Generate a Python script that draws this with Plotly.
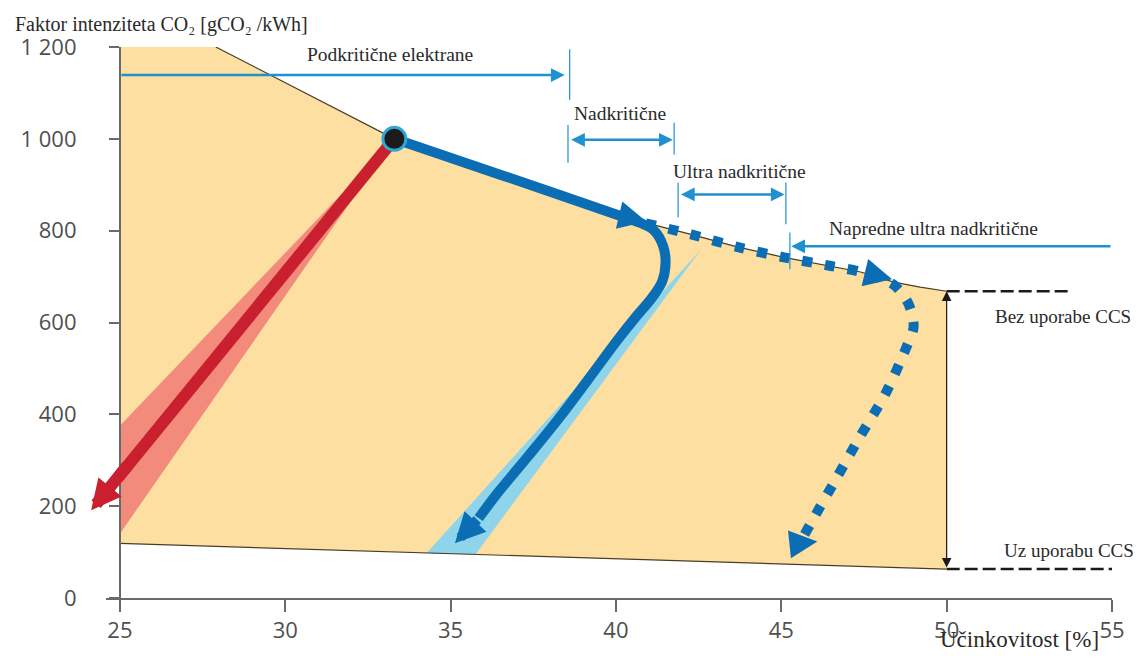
import plotly.graph_objects as go

# ---------------- data ----------------
x_ticks = [25, 30, 35, 40, 45, 50, 55]
y_ticks = [0, 200, 400, 600, 800, 1000, 1200]
y_ticktext = ["0", "200", "400", "600", "800", "1 000", "1 200"]

# envelope (orange area) boundaries
env_top_x = [25, 27.9, 33.3, 36.5, 40.25, 42.27, 43.69, 45.08, 46.5, 47.4, 48.4, 49.2, 50]
env_top_y = [1200, 1200, 1000, 922, 829, 792, 764, 742, 723, 710, 688, 677, 668]
env_bot_x = [50, 25]
env_bot_y = [63, 119]

# red (subcritical with CCS) band and arrow
red_band_x = [33.3, 25, 25]
red_band_y = [1000, 375, 140]
red_line_x = [33.3, 24.95]
red_line_y = [1000, 263]
red_head_tail = (25.27, 292)
red_tip = (24.13, 191)

# light blue band
blue_band_x = [42.58, 34.28, 35.75]
blue_band_y = [760, 98, 95]

# solid blue path
blue_x = [33.3, 36.5, 40.25, 40.8, 41.16, 41.43, 41.5, 41.4, 41.1, 40.6, 40.07, 39.17, 38.27, 37.36, 36.46, 35.85]
blue_y = [1000, 922, 829, 815, 800, 766, 730, 690, 655, 612, 564, 477, 391, 310, 232, 174]
blue_tip = (35.13, 119)

# dotted blue path
dot_x = [40.9, 42.27, 43.69, 45.08, 46.5, 47.4, 48.4, 48.85, 49.0, 48.76, 48.15, 47.4, 46.7, 45.98, 45.6]
dot_y = [816, 792, 764, 742, 723, 710, 682, 640, 590, 542, 445, 354, 265, 174, 125]

# triangle arrowheads along the paths (tail -> tip)
tri_tail_x = [40.33, 47.61, 45.29]
tri_tail_y = [830, 707, 117]
tri_tip_x = [40.92, 48.35, 46.09]
tri_tip_y = [820, 694, 123]

# starting point
start_x = [33.3]
start_y = [1000]

# technology range arrows
range_labels = ["Podkritične elektrane", "Nadkritične", "Ultra nadkritične", "Napredne ultra nadkritične"]
label_x = [33.17, 40.13, 43.75, 49.6]
label_y = [1183, 1055, 929, 805]
sub_arrow = dict(x0=25, x1=38.45, y=1139)
sc_arrow = dict(x0=38.6, x1=41.72, y=998)
usc_arrow = dict(x0=41.92, x1=45.1, y=879)
ausc_arrow = dict(x0=55, x1=45.3, y=766)
tick_seg_x = [38.6, 38.6, None, 38.55, 38.55, None, 41.76, 41.76, None, 41.88, 41.88, None, 45.14, 45.14, None, 45.26, 45.26]
tick_seg_y = [1085, 1195, None, 948, 1030, None, 966, 1035, None, 829, 905, None, 814, 905, None, 716, 796]

# CCS reference lines
ccs_no_x = [50, 53.75]
ccs_no_y = [668, 668]
ccs_yes_x = [50, 55]
ccs_yes_y = [63, 63]
ccs_labels = ["Bez uporabe CCS", "Uz uporabu CCS"]
ccs_label_x = [51.41, 51.68]
ccs_label_y = [614, 104]

x_title = "Učinkovitost [%]"
y_title = "Faktor intenziteta CO₂ [gCO₂ /kWh]"

# ---------------- styles ----------------
ORANGE = "#FDDFA1"
EDGE = "#4a3d28"
RED = "#C91F2E"
SALMON = "#F28B7B"
BLUE = "#0B6DB3"
LBLUE = "#8ED4EA"
ABLUE = "#1F90D0"
SERIF = "Liberation Serif"
TXT = "#2a2a2a"

fig = go.Figure()

# envelope
fig.add_trace(go.Scatter(x=env_top_x + env_bot_x, y=env_top_y + env_bot_y, fill="toself",
                         fillcolor=ORANGE, mode="lines", line=dict(width=0), hoverinfo="skip"))
# bands
fig.add_trace(go.Scatter(x=red_band_x, y=red_band_y, fill="toself", fillcolor=SALMON,
                         mode="lines", line=dict(width=0), hoverinfo="skip"))
fig.add_trace(go.Scatter(x=blue_band_x, y=blue_band_y, fill="toself", fillcolor=LBLUE,
                         mode="lines", line=dict(width=0), hoverinfo="skip"))
# envelope edges
fig.add_trace(go.Scatter(x=env_top_x[1:], y=env_top_y[1:], mode="lines",
                         line=dict(color=EDGE, width=1.2), hoverinfo="skip"))
fig.add_trace(go.Scatter(x=env_bot_x, y=env_bot_y, mode="lines",
                         line=dict(color=EDGE, width=1.2), hoverinfo="skip"))

# dotted path
fig.add_trace(go.Scatter(x=dot_x, y=dot_y, mode="lines", line_shape="spline",
                         line=dict(color=BLUE, width=10, dash="10px,13px", smoothing=0.8),
                         hoverinfo="skip"))

# red line
fig.add_trace(go.Scatter(x=red_line_x, y=red_line_y, mode="lines",
                         line=dict(color=RED, width=12), hoverinfo="skip"))

# solid blue
fig.add_trace(go.Scatter(x=blue_x, y=blue_y, mode="lines", line_shape="spline",
                         line=dict(color=BLUE, width=10, smoothing=1.0), hoverinfo="skip"))

# start circle
fig.add_trace(go.Scatter(x=start_x, y=start_y, mode="markers",
                         marker=dict(size=23, color="#1b1b1b", line=dict(color="#2FA5DC", width=3)),
                         hoverinfo="skip"))

# range ticks
fig.add_trace(go.Scatter(x=tick_seg_x, y=tick_seg_y, mode="lines",
                         line=dict(color=ABLUE, width=1.2), hoverinfo="skip"))

# CCS dashed lines
fig.add_trace(go.Scatter(x=ccs_no_x, y=ccs_no_y, mode="lines",
                         line=dict(color="#1a1a1a", width=2.5, dash="13px,5px"), hoverinfo="skip"))
fig.add_trace(go.Scatter(x=ccs_yes_x, y=ccs_yes_y, mode="lines",
                         line=dict(color="#1a1a1a", width=2.5, dash="13px,5px"), hoverinfo="skip"))

ann = []
# arrowheads at path ends
ann.append(dict(x=red_tip[0], y=red_tip[1], ax=red_head_tail[0], ay=red_head_tail[1],
                xref="x", yref="y", axref="x", ayref="y", showarrow=True, text="",
                arrowhead=2, arrowsize=0.5, arrowwidth=12, arrowcolor=RED))
ann.append(dict(x=blue_tip[0], y=blue_tip[1], ax=blue_x[-1], ay=blue_y[-1],
                xref="x", yref="y", axref="x", ayref="y", showarrow=True, text="",
                arrowhead=2, arrowsize=0.6, arrowwidth=10, arrowcolor=BLUE))
# triangle heads along paths
for tx, ty, hx, hy in zip(tri_tail_x, tri_tail_y, tri_tip_x, tri_tip_y):
    ann.append(dict(x=hx, y=hy, ax=tx, ay=ty,
                    xref="x", yref="y", axref="x", ayref="y", showarrow=True, text="",
                    arrowhead=2, arrowsize=2.8, arrowwidth=2, arrowcolor=BLUE))
# range arrows
ann.append(dict(x=sub_arrow["x1"], y=sub_arrow["y"], ax=sub_arrow["x0"], ay=sub_arrow["y"],
                xref="x", yref="y", axref="x", ayref="y", showarrow=True, text="",
                arrowhead=2, arrowsize=1.1, arrowwidth=2.5, arrowcolor=ABLUE))
for a in (sc_arrow, usc_arrow):
    ann.append(dict(x=a["x1"], y=a["y"], ax=a["x0"], ay=a["y"],
                    xref="x", yref="y", axref="x", ayref="y", showarrow=True, text="",
                    arrowhead=2, arrowsize=1.1, arrowwidth=2.5, arrowcolor=ABLUE,
                    arrowside="end+start"))
ann.append(dict(x=ausc_arrow["x1"], y=ausc_arrow["y"], ax=ausc_arrow["x0"], ay=ausc_arrow["y"],
                xref="x", yref="y", axref="x", ayref="y", showarrow=True, text="",
                arrowhead=2, arrowsize=1.1, arrowwidth=2.5, arrowcolor=ABLUE))
# CCS vertical double arrow
ann.append(dict(x=50, y=ccs_no_y[0], ax=50, ay=ccs_yes_y[0],
                xref="x", yref="y", axref="x", ayref="y", showarrow=True, text="",
                arrowhead=2, arrowsize=1.6, arrowwidth=1.2, arrowcolor="#1a1a1a",
                arrowside="end+start"))
# labels
for t, lx, ly in zip(range_labels, label_x, label_y):
    ann.append(dict(x=lx, y=ly, xref="x", yref="y", text=t, showarrow=False,
                    font=dict(family=SERIF, size=19.5, color=TXT)))
for t, lx, ly in zip(ccs_labels, ccs_label_x, ccs_label_y):
    ann.append(dict(x=lx, y=ly, xref="x", yref="y", text=t, showarrow=False, xanchor="left",
                    font=dict(family=SERIF, size=19, color=TXT)))
# axis titles
ann.append(dict(x=-0.092, y=1.04, xref="paper", yref="paper", text=y_title, showarrow=False,
                xanchor="left", yanchor="middle", font=dict(family=SERIF, size=20, color=TXT)))
ann.append(dict(x=0.908, y=-0.1005, xref="paper", yref="paper", text=x_title, showarrow=False,
                xanchor="center", yanchor="bottom", borderpad=0,
                font=dict(family=SERIF, size=23, color=TXT)))

x0, x1 = 24.58, 55.0
# page body has an 8px margin: figure sized so that the page is exactly 1145x664
fig.update_layout(
    width=1129, height=648,
    margin=dict(l=95, r=25, t=39, b=56),
    plot_bgcolor="white", paper_bgcolor="white",
    showlegend=False,
    annotations=ann,
    xaxis=dict(range=[x0, x1], tickvals=x_ticks, showgrid=False, zeroline=False,
               showline=True, linecolor="#6a6a6a", linewidth=2,
               ticks="outside", ticklen=12, tickwidth=2, tickcolor="#6a6a6a",
               tickfont=dict(family="Open Sans", size=22, color="#4f4f4f"),
               ticklabelstandoff=0),
    yaxis=dict(range=[0, 1200], tickvals=y_ticks, ticktext=y_ticktext, showgrid=False,
               zeroline=False, anchor="free", position=(25 - x0) / (x1 - x0),
               showline=True, linecolor="#6a6a6a", linewidth=2,
               ticks="outside", ticklen=10, tickwidth=2, tickcolor="#6a6a6a",
               tickfont=dict(family="Open Sans", size=22, color="#4f4f4f"),
               ticklabelstandoff=28),
)

fig.write_html("out.html")
